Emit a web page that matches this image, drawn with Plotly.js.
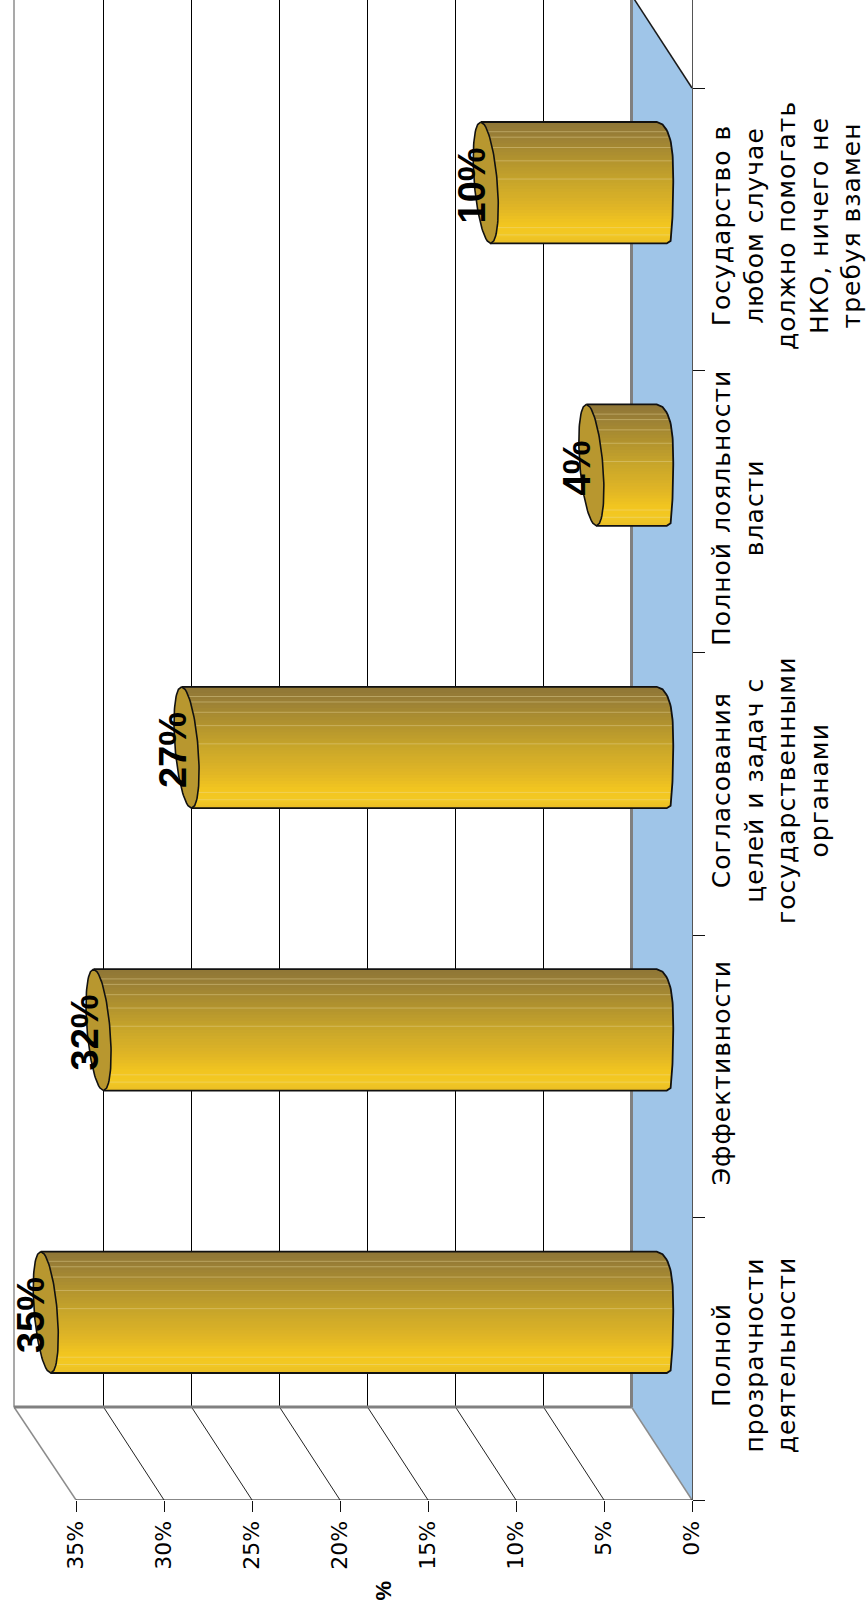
<!DOCTYPE html>
<html><head><meta charset="utf-8">
<script src="https://cdn.plot.ly/plotly-3.0.1.min.js"></script>
<style>html,body{margin:0;padding:0;background:#fff}#c{width:867px;height:1613px}.ytick text{letter-spacing:1px}</style>
</head><body><div id="c"></div>
<script>
const categories=["Полной<br>прозрачности<br>деятельности","Эффективности","Согласования<br>целей и задач с<br>государственными<br>органами","Полной лояльности<br>власти","Государство в<br>любом случае<br>должно помогать<br>НКО, ничего не<br>требуя взамен"];
const values=[35,32,27,4,10];
const valueTicks=[0,5,10,15,20,25,30,35];

const W=867,H=1613,PL=692,PB=1500;
const pxX=17.6,pxY=282.4;          // pixels per percent, per category slot
const DEPTHX=60.5/pxX,DEPTHY=93/pxY,LEFTX=62/pxX; // 3-D depth of the floor in axis units
const n=categories.length,xMax=PL/pxX,yMax=PB/pxY;
const yTop=yMax+0.4;
const traces=[];
function poly(x,y,fill,line,lw,noclip){traces.push({type:'scatter',mode:line?'lines':'none',x,y,fill:fill?'toself':'none',fillcolor:fill||undefined,line:line?{color:line,width:lw||1}:{width:0},hoverinfo:'skip',showlegend:false,cliponaxis:!noclip});}
// floor
poly([DEPTHX,0,0,DEPTHX,DEPTHX],[DEPTHY,0,n,n+DEPTHY,DEPTHY],'#9FC5E8');
valueTicks.forEach(v=>{
  if(v>0&&v<35){
    poly([v+DEPTHX,v+DEPTHX],[DEPTHY,yTop],null,'#000000',1);
    poly([v,v+DEPTHX],[0,DEPTHY],null,'#222222',1);
  }
});
poly([35+LEFTX,35+LEFTX],[DEPTHY,yTop],null,'#8c8c8c',1.5);
poly([35,35+LEFTX],[0,DEPTHY],null,'#8c8c8c',1.5);
poly([0,DEPTHX],[0,DEPTHY],null,'#8c8c8c',1.5);
poly([35+LEFTX,DEPTHX],[DEPTHY,DEPTHY],null,'#808080',3);
poly([DEPTHX,DEPTHX],[DEPTHY,yTop],null,'#808080',3);
poly([0,DEPTHX],[n,n+DEPTHY],null,'#1a1a1a',1.5);
poly([0,35],[0,0],null,'#111111',1.2,true);

// cylinders
const halfH=60.7,skew=5,minorR=11.5,roundP=2.6;
const cx=v=>v+DEPTHX/2, cy=i=>i+0.5+DEPTHY/2;
const stops=[[0,[143,118,54]],[.1,[152,126,54]],[.3,[176,146,47]],[.5,[201,166,42]],[.7,[223,181,38]],[.85,[243,198,31]],[.93,[242,200,36]],[1,[233,189,36]]];
function colourAt(f){for(let k=1;k<stops.length;k++){if(f<=stops[k][0]){const a=stops[k-1],b=stops[k],t=(f-a[0])/(b[0]-a[0]);return 'rgb('+a[1].map((c,j)=>Math.round(c+(b[1][j]-c)*t)).join(',')+')';}}return 'rgb(233,189,36)';}
const round=s=>minorR*Math.pow(Math.max(0,1-Math.pow(Math.abs(s),roundP)),1/roundP);
const baseEdge=s=>skew*s*Math.pow(Math.abs(s),4)+round(s);
const capEdge=(s,sign)=>skew*s+sign*minorR*Math.sqrt(Math.max(0,1-s*s));
const toX=(v,px)=>cx(v)-px/pxX, toY=(i,px)=>cy(i)-px/pxY;
const BANDS=40;
for(let b=0;b<BANDS;b++){
  const f0=b/BANDS,f1=Math.min(1,(b+1.4)/BANDS);
  const xs=[],ys=[];
  values.forEach((v,i)=>{
    const pts=[];for(let k=0;k<=3;k++)pts.push(f0+(f1-f0)*k/3);
    pts.forEach(f=>{const s=2*f-1;xs.push(toX(v,skew*s));ys.push(toY(i,s*halfH));});
    pts.slice().reverse().forEach(f=>{const s=2*f-1;xs.push(toX(0,baseEdge(s)));ys.push(toY(i,s*halfH));});
    xs.push(null);ys.push(null);
  });
  poly(xs,ys,colourAt((b+.5)/BANDS));
}
// light streaks along the cylinder
const streaks=[.08,.125,.21,.32,.47,.87,.93];
{const xs=[],ys=[];values.forEach((v,i)=>streaks.forEach(f=>{const s=2*f-1;xs.push(toX(v,skew*s),toX(0,baseEdge(s)),null);ys.push(toY(i,s*halfH),toY(i,s*halfH),null);}));
 poly(xs,ys,null,'rgba(238,222,165,0.4)',1);}
// outline and cap
values.forEach((v,i)=>{
  const bx=[toX(v,-skew)],by=[toY(i,-halfH)];
  for(let k=0;k<=48;k++){const s=-1+2*k/48;bx.push(toX(0,baseEdge(s)));by.push(toY(i,s*halfH));}
  bx.push(toX(v,skew));by.push(toY(i,halfH));
  poly(bx,by,null,'#111111',1.8);
  const ex=[],ey=[];
  for(let k=0;k<=48;k++){const s=-1+2*k/48;ex.push(toX(v,capEdge(s,1)));ey.push(toY(i,s*halfH));}
  for(let k=48;k>=0;k--){const s=-1+2*k/48;ex.push(toX(v,capEdge(s,-1)));ey.push(toY(i,s*halfH));}
  poly(ex,ey,'#B8972F','#111111',1.6);
});

const annotations=values.map((v,i)=>({x:cx(v)+14/pxX,y:cy(i)-3/pxY,xref:'x',yref:'y',text:'<b>'+v+'%</b>',textangle:-90,showarrow:false,font:{family:'Liberation Sans, Arial, sans-serif',size:38,color:'#000'}}));
annotations.push({xref:'paper',yref:'paper',x:382.6/PL,y:-(1591-PB)/PB,xanchor:'center',yanchor:'middle',text:'<b>%</b>',textangle:-90,showarrow:false,font:{family:'Liberation Sans, Arial, sans-serif',size:22,color:'#000'}});

const layout={
  width:W,height:H,margin:{l:0,t:0,r:W-PL,b:H-PB,pad:0},paper_bgcolor:'#fff',plot_bgcolor:'#fff',showlegend:false,
  font:{family:'DejaVu Sans, Liberation Sans, sans-serif',color:'#000'},
  xaxis:{range:[xMax,0],tickmode:'array',tickvals:valueTicks,ticktext:valueTicks.map(v=>v+'%'),tickangle:-90,tickfont:{size:22},ticks:'outside',ticklen:11,tickcolor:'#111',showgrid:false,zeroline:false,showline:false,automargin:false,ticklabelstandoff:0},
  yaxis:{range:[0,yMax],side:'right',tickmode:'array',tickvals:categories.map((c,i)=>i+0.5),ticktext:categories,tickangle:-90,tickfont:{size:25},ticks:'',ticklen:0,showgrid:false,zeroline:false,showline:true,linecolor:'#555',linewidth:1,automargin:false,ticklabelstandoff:7,
    minor:{tickmode:'array',tickvals:[0,1,2,3,4,5],ticks:'outside',ticklen:12,tickcolor:'#111',showgrid:false}},
  annotations
};
Plotly.newPlot('c',traces,layout,{staticPlot:true,displayModeBar:false});
</script></body></html>
